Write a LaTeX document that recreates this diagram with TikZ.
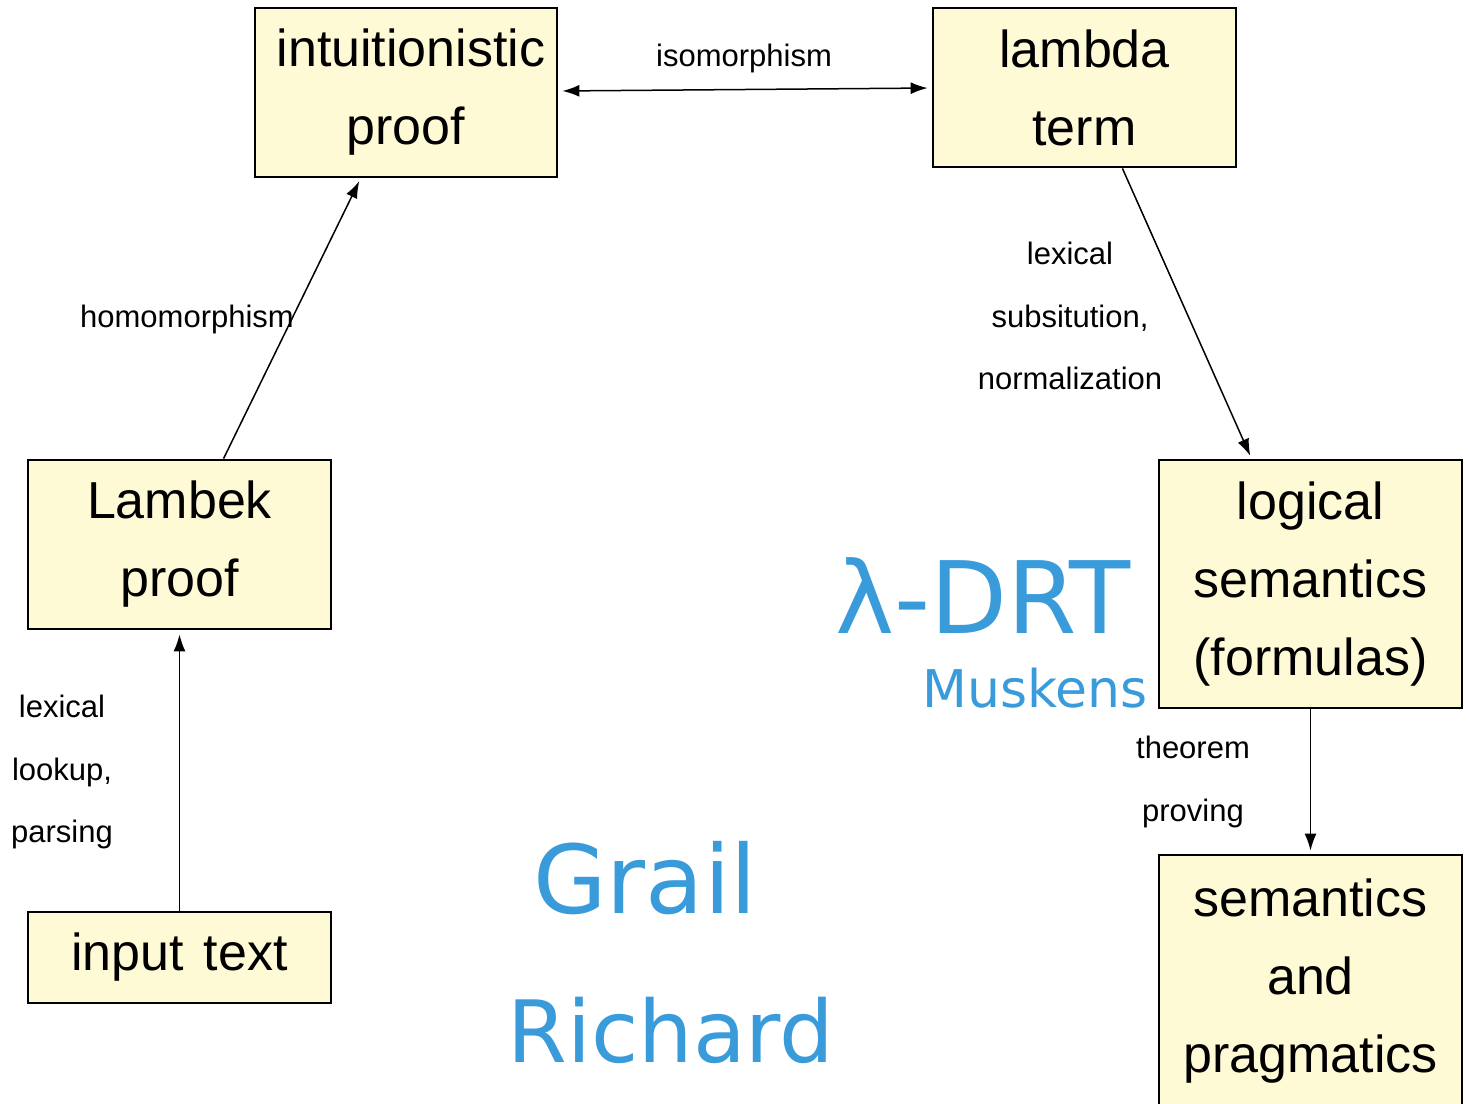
\documentclass[tikz,border=0pt]{standalone}
\usepackage{fontspec}
\setmainfont{Liberation Sans}
\newfontfamily\handfont{DejaVu Sans}
\usetikzlibrary{arrows.meta,calc}
\definecolor{boxfill}{RGB}{255,250,214}
\definecolor{inkblue}{RGB}{58,155,219}
\tikzset{
  boxnode/.style={draw=black,line width=2.8pt,fill=boxfill,rectangle,inner sep=0pt,
    align=center,font=\fontsize{52}{78}\selectfont},
  conn/.style={line width=1.5pt,-{Latex[length=17pt,width=12pt]}},
  lbl/.style={align=center,inner sep=0pt,font=\fontsize{31}{62.5}\selectfont},
  hand/.style={inner sep=0pt,text=inkblue,font=\handfont}
}
\begin{document}
\begin{tikzpicture}[x=1pt,y=-1pt]
\useasboundingbox (0,0) rectangle (1469,1103);
\begin{scope}
\clip (0,0) rectangle (1469,1103);
\node[boxnode,minimum width=302pt,minimum height=169pt] (ip) at (406,92.5) {\hspace*{10pt}intuitionistic\\proof};
\node[boxnode,minimum width=303pt,minimum height=159pt] (lt) at (1084.5,87.5) {lambda\\term};
\node[boxnode,minimum width=303pt,minimum height=169pt] (lp) at (179.5,544.5) {Lambek\\proof};
\node[boxnode,minimum width=303pt,minimum height=248pt] (ls) at (1310.5,584) {logical\\semantics\\(formulas)};
\node[boxnode,minimum width=303pt,minimum height=91pt] (it) at (179.5,957.5) {input\hspace{20pt}text};
\node[boxnode,minimum width=303pt,minimum height=252pt] (sp) at (1310.5,981) {semantics\\and\\pragmatics};
\end{scope}

\draw[line width=1.5pt,{Latex[length=17pt,width=12pt]}-{Latex[length=17pt,width=12pt]},shorten <=4pt,shorten >=4pt]
  ($(ip.east)+(0,-1.5)$) -- ($(lt.west)+(0,0.5)$);
\node[lbl] (iso) at (744,58) {isomorphism};

\draw[conn,shorten >=3pt] ($(lp.north west)!0.644!(lp.north east)$) -- ($(ip.south west)!0.351!(ip.south east)$);
\node[lbl,anchor=east] (hom) at (294,319) {homomorphism};

\draw[conn,shorten >=3pt] ($(lt.south west)!0.624!(lt.south east)$) -- ($(ls.north west)!0.307!(ls.north east)$);
\node[lbl] (lex) at (1070,316) {lexical\\subsitution,\\normalization};

\draw[conn,shorten >=3pt] (ls.south) -- (sp.north);
\node[lbl] (thm) at (1193,782) {theorem\\proving};

\draw[conn,shorten >=4pt] (it.north) -- (lp.south);
\node[lbl] (lkp) at (62,772) {lexical\\lookup,\\parsing};

\node[hand,font=\handfont\fontsize{100}{100}\selectfont] (drt) at (983,596) {λ-DRT};
\node[hand,font=\handfont\fontsize{52}{52}\selectfont] (musk) at (1035,688) {Muskens};
\node[hand,font=\handfont\fontsize{95}{95}\selectfont] (grail) at (645,878) {Grail};
\node[hand,font=\handfont\fontsize{86}{86}\selectfont] (rich) at (671,1030) {Richard};
\end{tikzpicture}
\end{document}
